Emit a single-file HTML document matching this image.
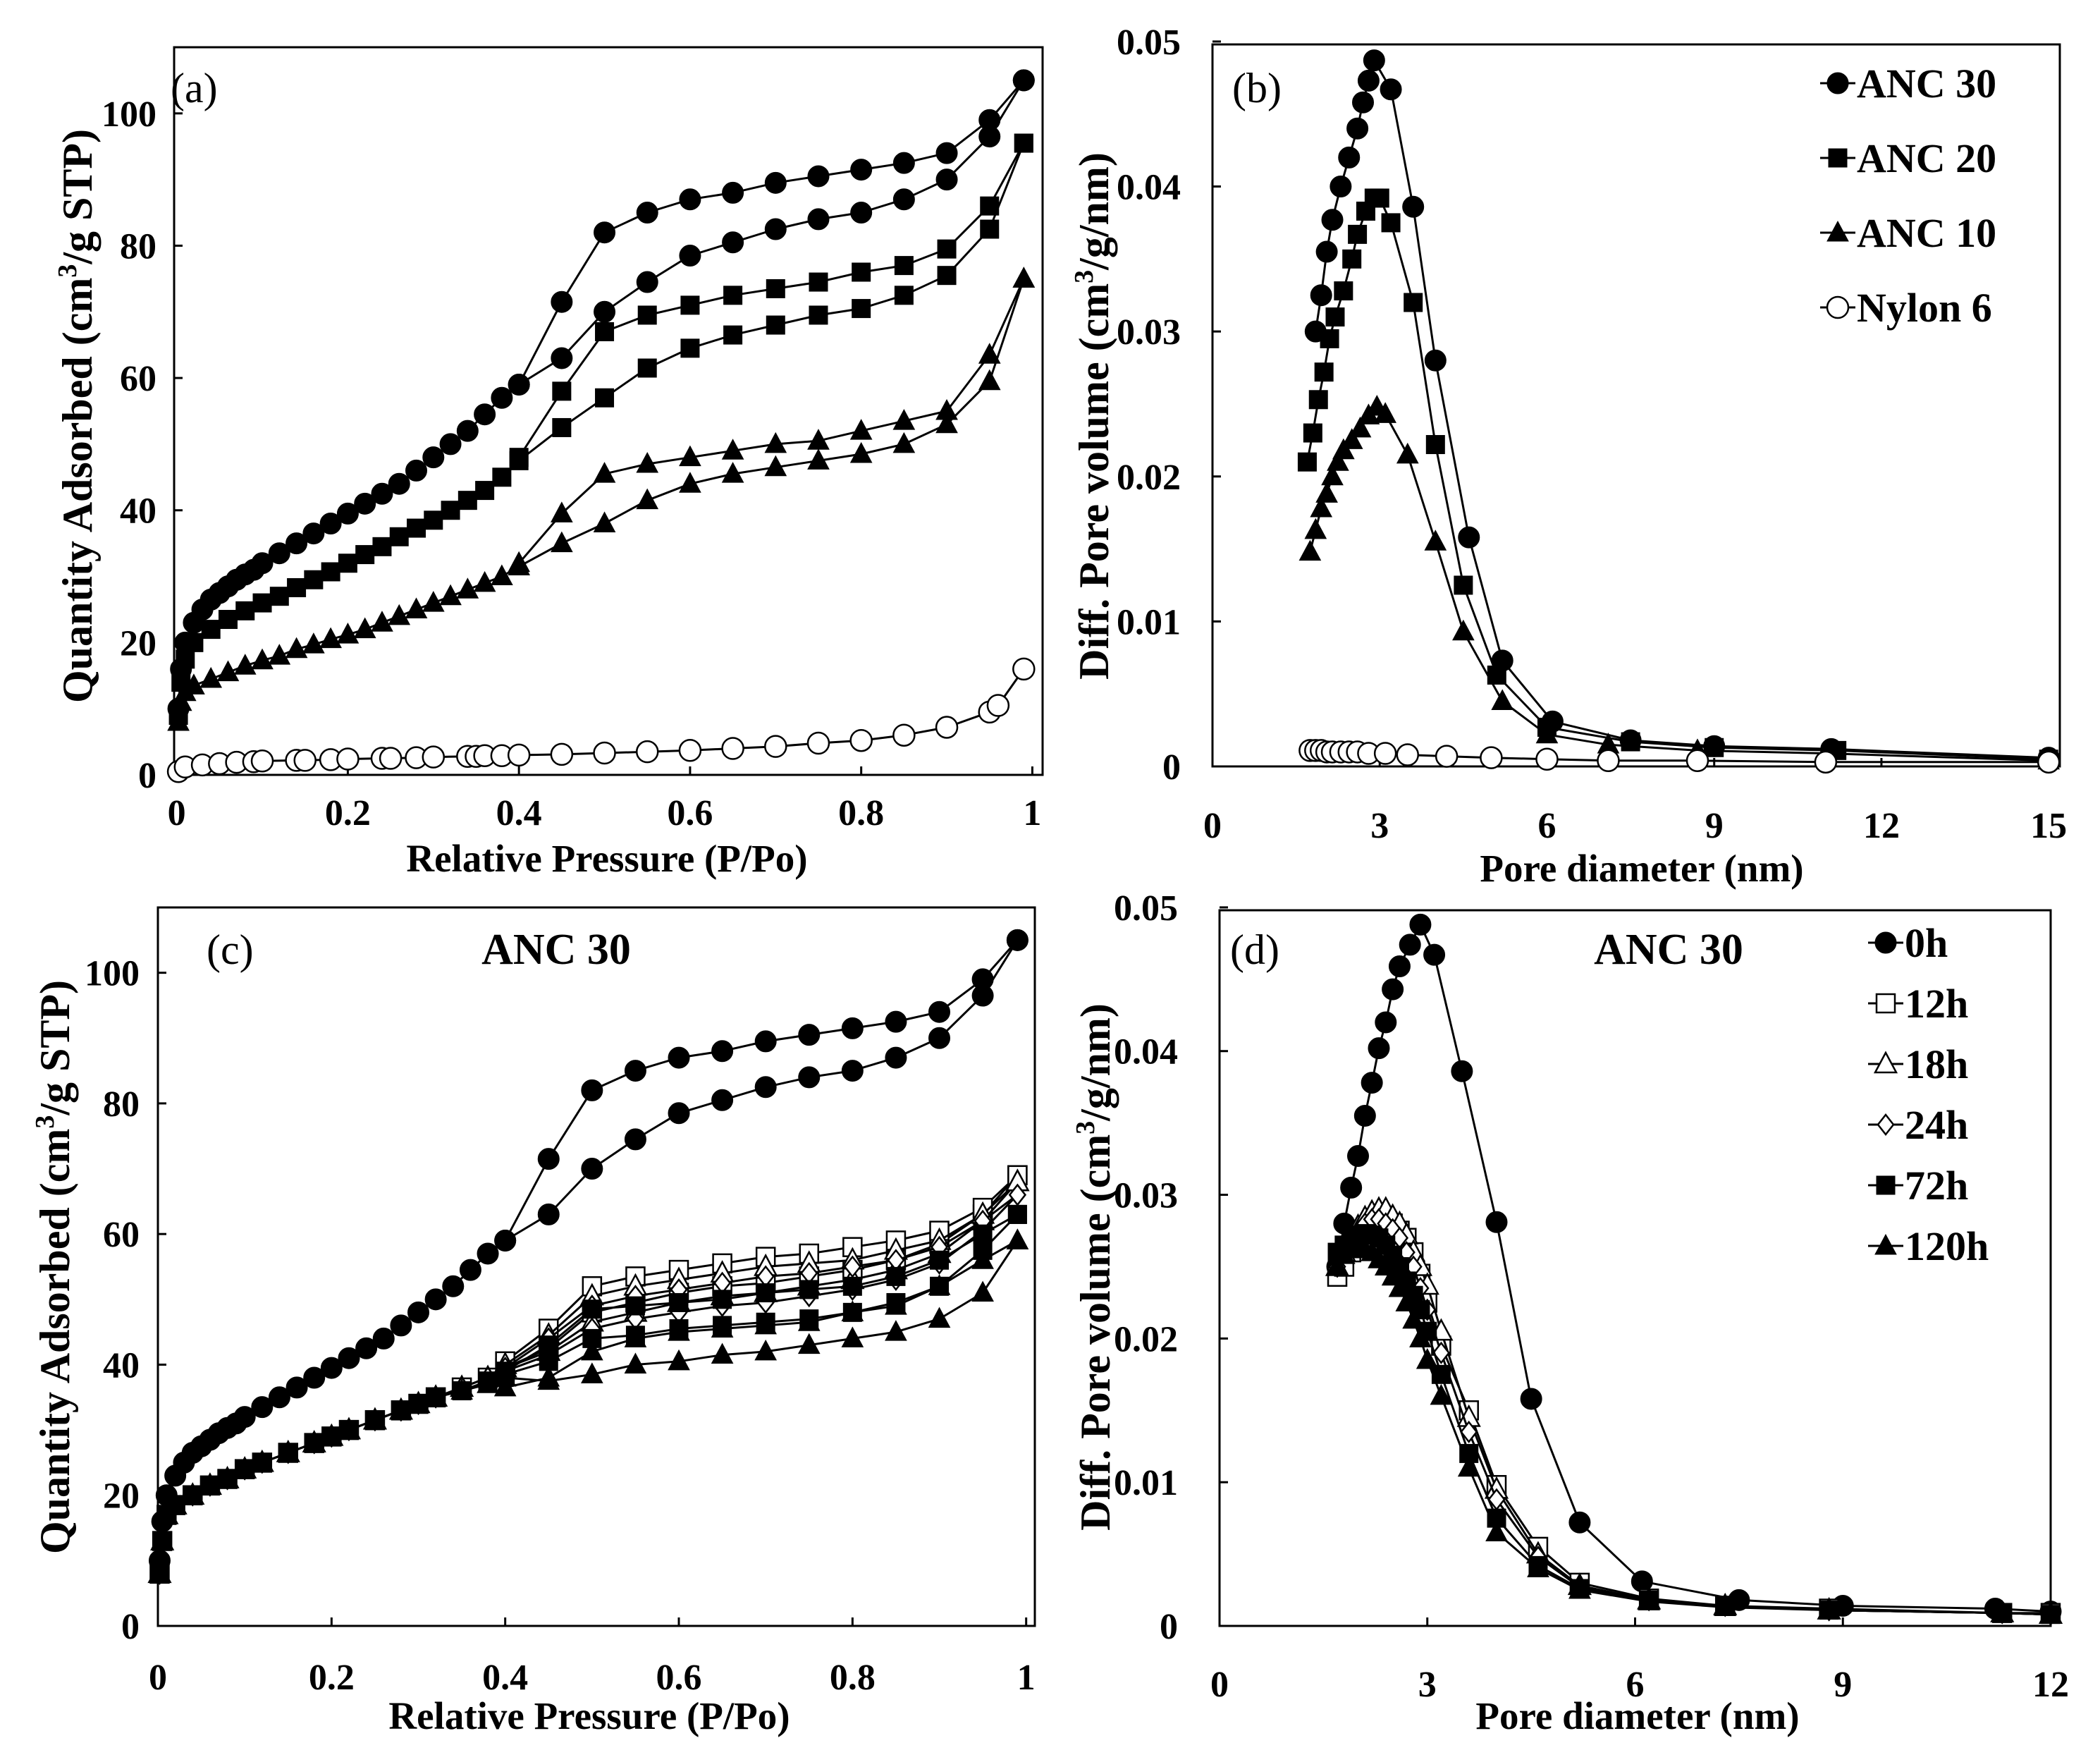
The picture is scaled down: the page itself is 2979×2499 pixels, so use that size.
<!DOCTYPE html>
<html><head><meta charset="utf-8"><style>
html,body{margin:0;padding:0;background:#fff;}
svg{display:block;}
text{font-family:"Liberation Serif",serif;fill:#000;}
</style></head><body>
<svg id="fig" width="2979" height="2499" viewBox="0 0 2979 2499" xmlns="http://www.w3.org/2000/svg"></svg>
<script>
// ---- Panel (a) data ----
const aAnc30AdsX=[0.002,0.005,0.01,0.02,0.03,0.04,0.05,0.06,0.07,0.08,0.09,0.10,0.12,0.14,0.16,0.18,0.20,0.22,0.24,0.26,0.28,0.30,0.32,0.34,0.36,0.38,0.40,0.45,0.50,0.55,0.60,0.65,0.70,0.75,0.80,0.85,0.90,0.95,0.99];
const aAnc30AdsY=[10,16,20,23,25,26.5,27.5,28.5,29.5,30.3,31,32,33.5,35,36.5,38,39.5,41,42.5,44,46,48,50,52,54.5,57,59,63,70,74.5,78.5,80.5,82.5,84,85,87,90,96.5,105];
const aDesX=[0.99,0.95,0.90,0.85,0.80,0.75,0.70,0.65,0.60,0.55,0.50,0.45,0.40];
const aAnc30DesY=[105,99,94,92.5,91.5,90.5,89.5,88,87,85,82,71.5,59];
const aAnc20AdsX=[0.002,0.005,0.01,0.02,0.04,0.06,0.08,0.10,0.12,0.14,0.16,0.18,0.20,0.22,0.24,0.26,0.28,0.30,0.32,0.34,0.36,0.38,0.40,0.45,0.50,0.55,0.60,0.65,0.70,0.75,0.80,0.85,0.90,0.95,0.99];
const aAnc20AdsY=[9,14,17.5,20,22,23.5,24.8,26,27,28.3,29.5,30.7,32,33.3,34.5,36,37.3,38.5,40,41.5,43,45,47.5,52.5,57,61.5,64.5,66.5,68,69.5,70.5,72.5,75.5,82.5,95.5];
const aAnc20DesY=[95.5,86,79.5,77,76,74.5,73.5,72.5,71,69.5,67,58,48];
const aAnc10AdsX=[0.002,0.005,0.01,0.02,0.04,0.06,0.08,0.10,0.12,0.14,0.16,0.18,0.20,0.22,0.24,0.26,0.28,0.30,0.32,0.34,0.36,0.38,0.40,0.45,0.50,0.55,0.60,0.65,0.70,0.75,0.80,0.85,0.90,0.95,0.99];
const aAnc10AdsY=[8,11,12.5,13.5,14.5,15.5,16.5,17.3,18,19,19.7,20.5,21.2,22,23,24,25,26,27,28,29,30,31.5,35,38,41.5,44,45.5,46.5,47.5,48.5,50,53,59.5,75];
const aAnc10DesY=[75,63.5,55,53.5,52,50.5,50,49,48,47,45.5,39.5,32];
const aNylonX=[0.002,0.01,0.03,0.05,0.07,0.09,0.10,0.14,0.15,0.18,0.20,0.24,0.25,0.28,0.30,0.34,0.35,0.36,0.38,0.40,0.45,0.50,0.55,0.60,0.65,0.70,0.75,0.80,0.85,0.90,0.95,0.96,0.99];
const aNylonY=[0.5,1.2,1.5,1.7,1.9,2,2.1,2.2,2.2,2.3,2.4,2.5,2.5,2.6,2.7,2.8,2.8,2.9,2.9,3,3.1,3.3,3.5,3.7,4,4.3,4.8,5.2,6,7.2,9.5,10.5,16];
// ---- Panel (b) data ----
const bAnc30X=[1.85,1.95,2.05,2.15,2.3,2.45,2.6,2.7,2.8,2.9,3.2,3.6,4.0,4.6,5.2,6.1,7.5,9.0,11.1,15];
const bAnc30Y=[0.030,0.0325,0.0355,0.0377,0.040,0.042,0.044,0.0458,0.0473,0.0487,0.0467,0.0386,0.028,0.0158,0.0073,0.0031,0.0018,0.0014,0.0012,0.0006];
const bAnc20X=[1.7,1.8,1.9,2.0,2.1,2.2,2.35,2.5,2.6,2.75,2.9,3.0,3.2,3.6,4.0,4.5,5.1,6.0,7.5,9.0,11.2,15];
const bAnc20Y=[0.021,0.023,0.0253,0.0272,0.0295,0.031,0.0328,0.035,0.0367,0.0383,0.0392,0.0392,0.0375,0.032,0.0222,0.0125,0.0063,0.0027,0.0017,0.0013,0.0011,0.0005];
const bAnc10X=[1.75,1.85,1.95,2.05,2.15,2.25,2.35,2.5,2.65,2.8,2.95,3.1,3.5,4.0,4.5,5.2,6.0,7.1,8.7,11,15];
const bAnc10Y=[0.0148,0.0163,0.0178,0.0188,0.020,0.021,0.0218,0.0225,0.0233,0.0242,0.0248,0.0243,0.0215,0.0155,0.0093,0.0045,0.0022,0.0015,0.0011,0.0009,0.0004];
const bNylonX=[1.75,1.85,1.95,2.05,2.15,2.3,2.45,2.6,2.8,3.1,3.5,4.2,5.0,6.0,7.1,8.7,11,15];
const bNylonY=[0.0011,0.0011,0.0011,0.001,0.001,0.001,0.001,0.001,0.0009,0.0009,0.0008,0.0007,0.0006,0.0005,0.0004,0.0004,0.0003,0.0003];
// ---- Panel (c) data ----
const cAdsX=[0.002,0.005,0.01,0.02,0.04,0.06,0.08,0.10,0.12,0.15,0.18,0.20,0.22,0.25,0.28,0.30,0.32,0.35,0.38,0.40,0.45,0.50,0.55,0.60,0.65,0.70,0.75,0.80,0.85,0.90,0.95,0.99];
const cDesX=[0.99,0.95,0.90,0.85,0.80,0.75,0.70,0.65,0.60,0.55,0.50,0.45,0.40];
const c12AdsY=[8,13,17,18.5,20,21.5,22.5,24,25,26.5,28,29,30,31.5,33,34,35,36.5,38,39.5,42.5,48,49.5,51,52,52.5,53.5,54.5,56,58.5,63,69];
const c12DesY=[69,64,60.5,59,58,57,56.5,55.5,54.5,53.5,52,45.5,40.5];
const c18AdsY=[8,13,17,18.5,20,21.5,22.5,24,25,26.5,28,29,30,31.5,33,34,35,36.5,38,39.5,42,46.5,48,49.5,50.5,51,52,53,54.5,57,62,68];
const c18DesY=[68,63,59,57.5,56,55.5,55,54,53,52,50.5,44.5,40];
const c24AdsY=[8,13,17,18.5,20,21.5,22.5,24,25,26.5,28,29,30,31.5,33,34,35,36.5,38,39,41.5,45.5,47,48,49,49.5,50.5,51.5,53,55.5,60.5,66];
const c24DesY=[66,62,58,56,55,54,53.5,52.5,51.5,50.5,49,44,39.5];
const c72AdsY=[8,13,17,18.5,20,21.5,22.5,24,25,26.5,28,29,30,31.5,33,34,35,36,37.5,38.5,40.5,44,44.5,45.5,46,46.5,47,48,49.5,52,57.5,63];
const c72DesY=[63,60,56,53.5,52,51.5,51,50,49.5,49,48.5,43,39];
const c120AdsY=[8,13,17,18.5,20,21.5,22.5,24,25,26.5,28,29,30,31.5,33,34,35,36,37,38,37.5,38.5,40,40.5,41.5,42,43,44,45,47,51,59];
const c120DesY=[59,56,52,49,48,46.5,46,45.5,45,44,42,38,36.5];
// ---- Panel (d) data ----
const d0X=[1.7,1.8,1.9,2.0,2.1,2.2,2.3,2.4,2.5,2.6,2.75,2.9,3.1,3.5,4.0,4.5,5.2,6.1,7.5,9.0,11.2,12];
const d0Y=[0.025,0.028,0.0305,0.0327,0.0355,0.0378,0.0402,0.042,0.0443,0.0459,0.0474,0.0488,0.0467,0.0386,0.0281,0.0158,0.0072,0.0031,0.0018,0.0014,0.0012,0.001];
const dX=[1.7,1.8,1.9,2.0,2.1,2.2,2.3,2.4,2.5,2.6,2.7,2.8,2.9,3.0,3.2,3.6,4.0,4.6,5.2,6.2,7.3,8.8,11.3,12];
const d12Y=[0.0243,0.025,0.026,0.0268,0.0275,0.028,0.0282,0.0283,0.028,0.0275,0.027,0.026,0.0245,0.0225,0.0195,0.015,0.0098,0.0055,0.003,0.0019,0.0014,0.0012,0.0009,0.0009];
const d18Y=[0.025,0.026,0.027,0.0278,0.0284,0.0288,0.029,0.029,0.0285,0.028,0.0272,0.026,0.025,0.0237,0.0205,0.0145,0.0095,0.005,0.0028,0.0018,0.0014,0.0011,0.0009,0.0008];
const d24Y=[0.025,0.026,0.0268,0.0274,0.028,0.0283,0.0283,0.028,0.0276,0.027,0.026,0.025,0.0235,0.022,0.019,0.0135,0.0088,0.0048,0.0027,0.0018,0.0014,0.0011,0.0009,0.0008];
const d72Y=[0.026,0.0265,0.027,0.0272,0.0273,0.0272,0.027,0.0265,0.0258,0.025,0.024,0.023,0.022,0.0205,0.0175,0.012,0.0075,0.0042,0.0026,0.0018,0.0014,0.0011,0.0009,0.0008];
const d120Y=[0.025,0.0258,0.0262,0.0263,0.0262,0.026,0.0255,0.025,0.0243,0.0235,0.0225,0.0213,0.02,0.0185,0.016,0.011,0.0065,0.004,0.0025,0.0017,0.0013,0.0011,0.0009,0.0008];
// tick labels
const isoXTicks=[0,0.2,0.4,0.6,0.8,1];
const isoXLabels=["0","0.2","0.4","0.6","0.8","1"];
const isoYTicks=[0,20,40,60,80,100];
const psdYTicks=[0,0.01,0.02,0.03,0.04,0.05];
const psdYLabels=["0","0.01","0.02","0.03","0.04","0.05"];
const bXTicks=[0,3,6,9,12,15];
const dXTicks=[0,3,6,9,12];

const NS="http://www.w3.org/2000/svg";
const svg=document.getElementById('fig');
function el(tag,attrs,parent){const e=document.createElementNS(NS,tag);for(const k in attrs)e.setAttribute(k,attrs[k]);(parent||svg).appendChild(e);return e;}

function marker(g,type,cx,cy){
  const r=15;let m;
  const fill=type.startsWith('open')?'#fff':'#000';
  const sw=type.startsWith('open')?2.5:1;
  if(type.endsWith('circle')) m=el('circle',{cx:cx,cy:cy,r:r,fill:fill,stroke:'#000','stroke-width':sw},g);
  else if(type.endsWith('square')) m=el('rect',{x:cx-13,y:cy-13,width:26,height:26,fill:fill,stroke:'#000','stroke-width':sw},g);
  else if(type.endsWith('triangle')) m=el('polygon',{points:`${cx},${cy-16} ${cx-15},${cy+12} ${cx+15},${cy+12}`,fill:fill,stroke:'#000','stroke-width':sw},g);
  else m=el('polygon',{points:`${cx},${cy-14} ${cx-11},${cy} ${cx},${cy+14} ${cx+11},${cy}`,fill:fill,stroke:'#000','stroke-width':sw},g);
  
  
}

function panel(p){
  const g=el('g',{});
  
  
  const sx=v=>p.x0+(v-p.xmin)/(p.xmax-p.xmin)*(p.x1-p.x0);
  const sy=v=>p.y1-(v-p.ymin)/(p.ymax-p.ymin)*(p.y1-p.y0);
  const frame=el('rect',{x:p.x0,y:p.y0,width:p.x1-p.x0,height:p.y1-p.y0,fill:'none',stroke:'#000','stroke-width':3},g);
  
  
  p.xt.forEach((v,i)=>{
    el('line',{x1:sx(v),x2:sx(v),y1:p.y1,y2:p.y1-12,stroke:'#000','stroke-width':3},g);
    const t=el('text',{x:sx(v),y:p.xly,'text-anchor':'middle','font-size':52,'font-weight':'bold'},g);
    t.textContent=p.xl[i];
    
    
  });
  p.yt.forEach((v,i)=>{
    el('line',{x1:p.x0,x2:p.x0+12,y1:sy(v),y2:sy(v),stroke:'#000','stroke-width':3},g);
    const t=el('text',{x:p.ylx,y:sy(v)+18,'text-anchor':'end','font-size':52,'font-weight':'bold'},g);
    t.textContent=p.yl[i];
    
    
  });
  const xt=el('text',{x:p.xtx,y:p.xty,'text-anchor':'middle','font-size':55,'font-weight':'bold'},g);
  xt.textContent=p.xtitle;
  
  
  const yt=el('text',{x:0,y:0,'text-anchor':'middle','font-size':60,'font-weight':'bold',transform:`translate(${p.ytx},${p.yty}) rotate(-90)`},g);
  yt.innerHTML=p.ytitle;
  
  
  const lab=el('text',{x:p.labx,y:p.laby,'font-size':60},g);
  lab.textContent=p.label;
  
  
  if(p.title){
    const tt=el('text',{x:p.title[1],y:p.title[2],'text-anchor':'middle','font-size':62,'font-weight':'bold'},g);
    tt.textContent=p.title[0];
    
    
  }
  p.series.forEach(s=>{
    const sg=el('g',{},g);
    
    
    const pts=s.x.map((v,i)=>sx(v).toFixed(1)+','+sy(s.y[i]).toFixed(1)).join(' ');
    const pl=el('polyline',{points:pts,fill:'none',stroke:'#000','stroke-width':3,'stroke-linejoin':'round'},sg);
    
    
    s.x.forEach((v,i)=>marker(sg,s.m,sx(v),sy(s.y[i])));
  });
  if(p.legend){
    p.legend.entries.forEach((e,i)=>{
      const lg=el('g',{},g);
      
      
      const y=p.legend.y+i*p.legend.dy;
      el('line',{x1:p.legend.x,x2:p.legend.x+50,y1:y,y2:y,stroke:'#000','stroke-width':3},lg);
      marker(lg,e[1],p.legend.x+25,y);
      const t=el('text',{x:p.legend.x+52,y:y+20,'font-size':58,'font-weight':'bold'},lg);
      t.textContent=e[0];
    });
  }
}

const isoYT='Quantity Adsorbed (cm<tspan font-size="38" dy="-22">3</tspan><tspan dy="22">/g STP)</tspan>';
const psdYT='Diff. Pore volume (cm<tspan font-size="38" dy="-22">3</tspan><tspan dy="22">/g/nm)</tspan>';

panel({name:'panel-a',x0:247,x1:1479,y0:67,y1:1099,xmin:-0.003,xmax:1.012,ymin:0,ymax:110,
  xt:isoXTicks,xl:isoXLabels,yt:isoYTicks,yl:isoYTicks.map(String),xly:1170,ylx:222,
  xtitle:'Relative Pressure (P/Po)',xtx:861,xty:1236,ytitle:isoYT,ytx:130,yty:590,label:'(a)',labx:242,laby:145,
  series:[
    {name:'anc30-adsorption',x:aAnc30AdsX,y:aAnc30AdsY,m:'circle'},
    {name:'anc30-desorption',x:aDesX,y:aAnc30DesY,m:'circle'},
    {name:'anc20-adsorption',x:aAnc20AdsX,y:aAnc20AdsY,m:'square'},
    {name:'anc20-desorption',x:aDesX,y:aAnc20DesY,m:'square'},
    {name:'anc10-adsorption',x:aAnc10AdsX,y:aAnc10AdsY,m:'triangle'},
    {name:'anc10-desorption',x:aDesX,y:aAnc10DesY,m:'triangle'},
    {name:'nylon6-isotherm',x:aNylonX,y:aNylonY,m:'open-circle'}]});

panel({name:'panel-b',x0:1720,x1:2922,y0:63,y1:1087,xmin:0,xmax:15.2,ymin:0,ymax:0.0498,
  xt:bXTicks,xl:bXTicks.map(String),yt:psdYTicks,yl:psdYLabels,xly:1188,ylx:1675,
  xtitle:'Pore diameter (nm)',xtx:2329,xty:1250,ytitle:psdYT,ytx:1572,yty:590,label:'(b)',labx:1748,laby:145,
  series:[
    {name:'anc30-psd',x:bAnc30X,y:bAnc30Y,m:'circle'},
    {name:'anc20-psd',x:bAnc20X,y:bAnc20Y,m:'square'},
    {name:'anc10-psd',x:bAnc10X,y:bAnc10Y,m:'triangle'},
    {name:'nylon6-psd',x:bNylonX,y:bNylonY,m:'open-circle'}],
  legend:{x:2582,y:118,dy:106,entries:[['ANC 30','circle'],['ANC 20','square'],['ANC 10','triangle'],['Nylon 6','open-circle']]}});

panel({name:'panel-c',x0:224,x1:1468,y0:1287,y1:2306,xmin:0,xmax:1.01,ymin:0,ymax:110,
  xt:isoXTicks,xl:isoXLabels,yt:isoYTicks,yl:isoYTicks.map(String),xly:2396,ylx:198,
  xtitle:'Relative Pressure (P/Po)',xtx:836,xty:2452,ytitle:isoYT,ytx:98,yty:1797,label:'(c)',labx:293,laby:1367,
  title:['ANC 30',789,1367],
  series:[
    {name:'anc30-adsorption',x:aAnc30AdsX,y:aAnc30AdsY,m:'circle'},
    {name:'anc30-desorption',x:aDesX,y:aAnc30DesY,m:'circle'},
    {name:'12h-adsorption',x:cAdsX,y:c12AdsY,m:'open-square'},
    {name:'12h-desorption',x:cDesX,y:c12DesY,m:'open-square'},
    {name:'18h-adsorption',x:cAdsX,y:c18AdsY,m:'open-triangle'},
    {name:'18h-desorption',x:cDesX,y:c18DesY,m:'open-triangle'},
    {name:'24h-adsorption',x:cAdsX,y:c24AdsY,m:'open-diamond'},
    {name:'24h-desorption',x:cDesX,y:c24DesY,m:'open-diamond'},
    {name:'72h-adsorption',x:cAdsX,y:c72AdsY,m:'square'},
    {name:'72h-desorption',x:cDesX,y:c72DesY,m:'square'},
    {name:'120h-adsorption',x:cAdsX,y:c120AdsY,m:'triangle'},
    {name:'120h-desorption',x:cDesX,y:c120DesY,m:'triangle'}]});

panel({name:'panel-d',x0:1730,x1:2909,y0:1291,y1:2306,xmin:0,xmax:12,ymin:0,ymax:0.0498,
  xt:dXTicks,xl:dXTicks.map(String),yt:psdYTicks,yl:psdYLabels,xly:2406,ylx:1671,
  xtitle:'Pore diameter (nm)',xtx:2323,xty:2452,ytitle:psdYT,ytx:1574,yty:1797,label:'(d)',labx:1745,laby:1367,
  title:['ANC 30',2367,1367],
  series:[
    {name:'0h-psd',x:d0X,y:d0Y,m:'circle'},
    {name:'12h-psd',x:dX,y:d12Y,m:'open-square'},
    {name:'18h-psd',x:dX,y:d18Y,m:'open-triangle'},
    {name:'24h-psd',x:dX,y:d24Y,m:'open-diamond'},
    {name:'72h-psd',x:dX,y:d72Y,m:'square'},
    {name:'120h-psd',x:dX,y:d120Y,m:'triangle'}],
  legend:{x:2650,y:1337,dy:86,entries:[['0h','circle'],['12h','open-square'],['18h','open-triangle'],['24h','open-diamond'],['72h','square'],['120h','triangle']]}});
</script>
</body></html>
